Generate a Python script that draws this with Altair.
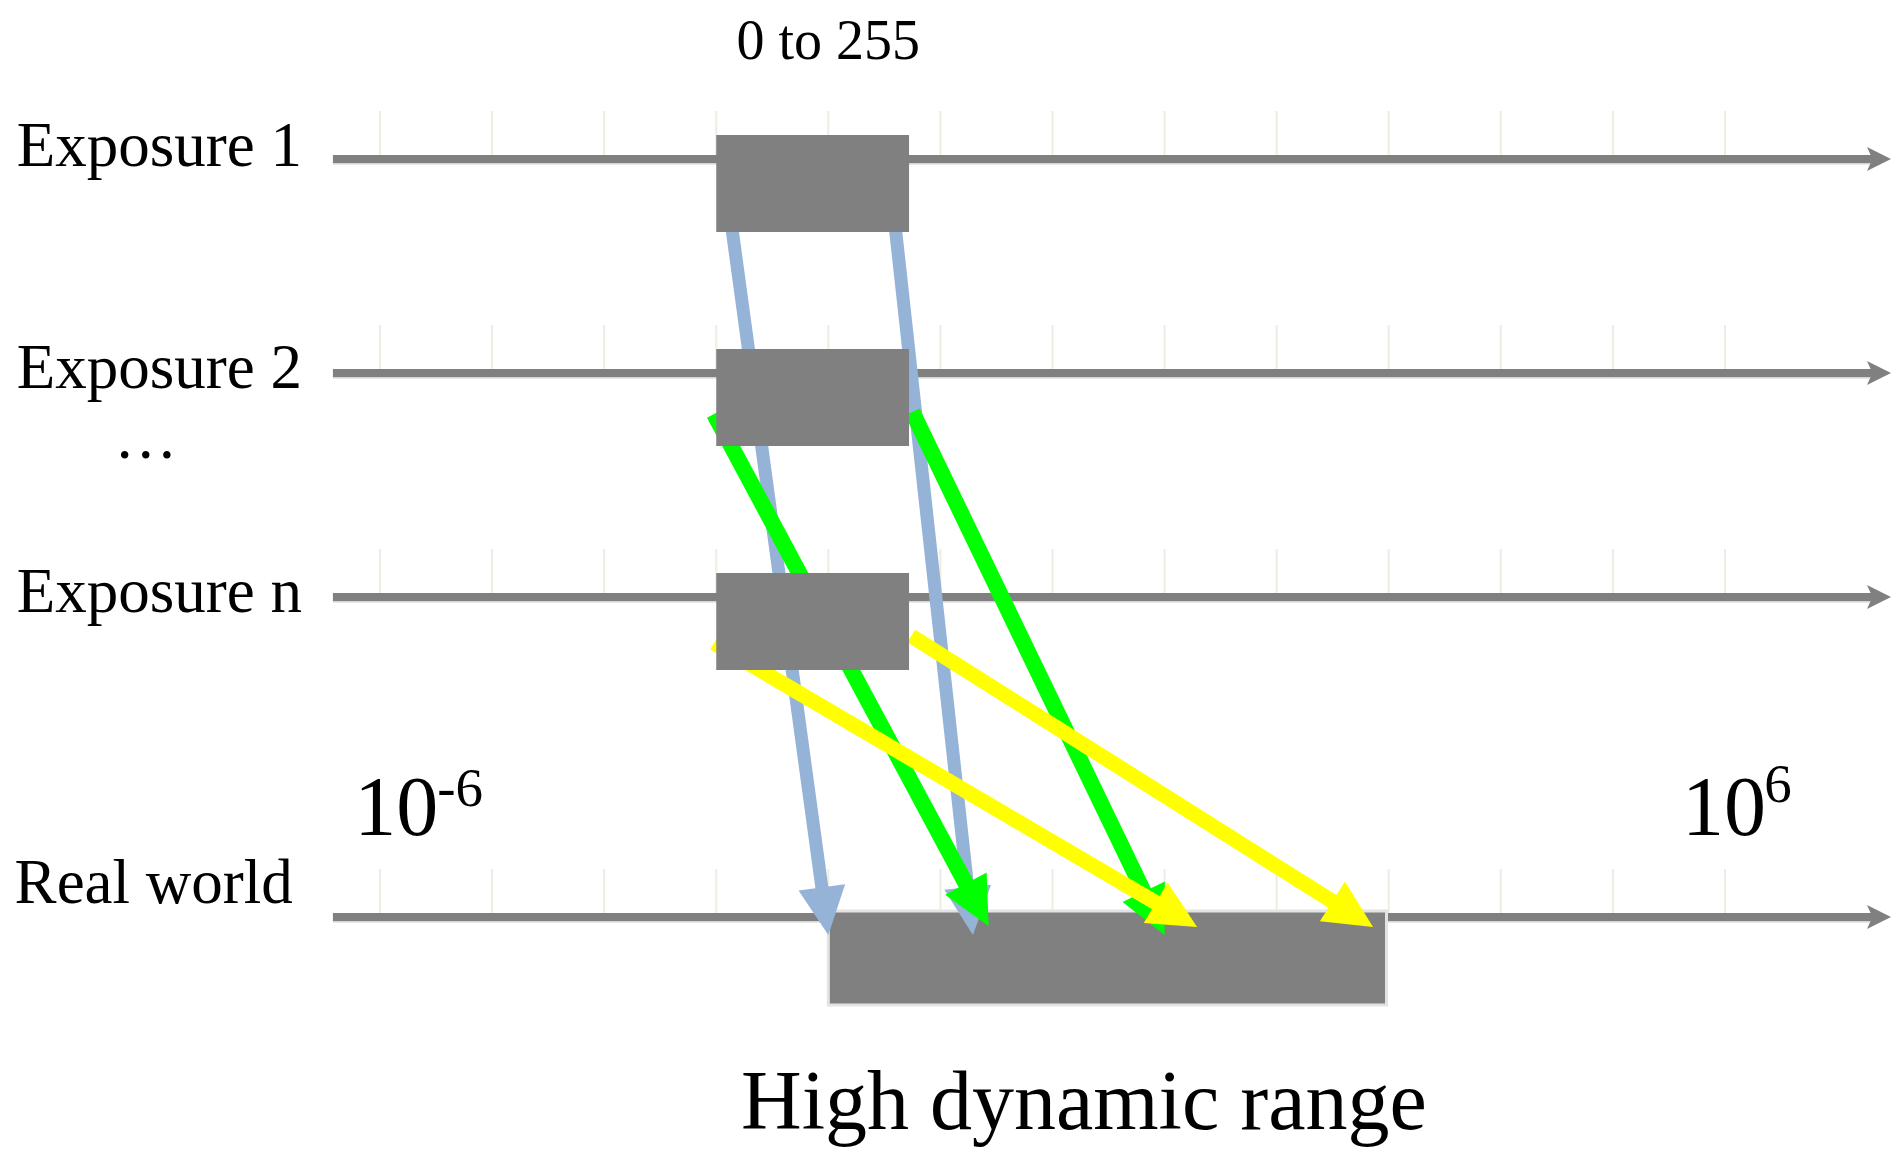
import math
import altair as alt
import pandas as pd

# x unit: log10 luminance (ticks 10^-6 ... 10^6); y unit: diagram rows (0 = top)
tick_values = list(range(-6, 7))
axis_rows = ["Exposure 1", "Exposure 2", "Exposure n", "Real world"]
axis_y = [159, 373, 597, 917]

label_text = ["Exposure 1", "Exposure 2", "…", "Exposure n", "Real world"]
label_x = [-9.24, -9.24, -8.37, -9.24, -9.26]
label_y = [166, 388, 458, 612, 903]

axis_start = -6.42
axis_end = 7.34
axis_head = 7.374

# exposure windows (0 to 255) and real-world range
exp_rows = [159, 373, 597]
exp_lo = -3.0
exp_hi = -1.28
real_lo, real_hi = -2.0, 2.98
real_top, real_bottom = 911, 1005

# mapping arrows
arrow_group = ["blue", "blue", "green", "green", "yellow", "yellow"]
arrow_x1 = [-2.87, -1.41, -3.02, -1.25, -3.02, -1.26]
arrow_y1 = [220, 220, 414, 412, 643, 636]
arrow_x2 = [-2.00, -0.71, -0.57, 1.00, 1.29, 2.86]
arrow_y2 = [935, 935, 926, 935, 927, 927]
group_color = {"blue": "#95b3d7", "green": "#00ff00", "yellow": "#ffff00"}
group_width = {"blue": 13, "green": 16, "yellow": 15}

PX_PER_UNIT = 1884 / (7.490 + 9.319)
XS = alt.Scale(domain=[-9.319, 7.490], nice=False, zero=False)
YS = alt.Scale(domain=[8, 1147], nice=False, zero=False, reverse=True)


def X(f):
    return alt.X(f, type="quantitative", scale=XS, axis=None)


def Y(f):
    return alt.Y(f, type="quantitative", scale=YS, axis=None)


# ticks
tick_df = pd.DataFrame([{"x": t, "y": r - 48, "y2": r - 4} for r in axis_y for t in tick_values])
ticks = alt.Chart(tick_df).mark_rule(color="#efece1", strokeWidth=2).encode(
    x=X("x"), y=Y("y"), y2=alt.Y2("y2"))

axis_df = pd.DataFrame({"x": [axis_start] * 4, "x2": [axis_end] * 4, "y": axis_y,
                        "yl": [v + 4.8 for v in axis_y], "xh": [axis_head] * 4})
under = alt.Chart(axis_df).mark_rule(color="#d4d4d4", strokeWidth=1.5).encode(
    x=X("x"), x2=alt.X2("x2"), y=Y("yl"))
axes = alt.Chart(axis_df).mark_rule(color="#808080", strokeWidth=8).encode(
    x=X("x"), x2=alt.X2("x2"), y=Y("y"))
axis_heads = alt.Chart(axis_df).mark_point(
    shape="M1,0 L-1,-1 L-0.55,0 L-1,1 Z", size=576, filled=True, color="#808080",
    opacity=1, strokeWidth=0).encode(x=X("xh"), y=Y("y"))

real_df = pd.DataFrame({"x": [real_lo], "x2": [real_hi], "y": [real_top], "y2": [real_bottom]})
real_box = alt.Chart(real_df).mark_rect(fill="#808080", stroke="#e3e3e3", strokeWidth=3).encode(
    x=X("x"), x2=alt.X2("x2"), y=Y("y"), y2=alt.Y2("y2"))

# arrows
rows = []
for g, x1, y1, x2, y2 in zip(arrow_group, arrow_x1, arrow_y1, arrow_x2, arrow_y2):
    dx = (x2 - x1) * PX_PER_UNIT
    dy = (y2 - y1)
    n = math.hypot(dx, dy)
    ux, uy = dx / n, dy / n
    cx = x2 - 24 * ux / PX_PER_UNIT
    cy = y2 - 24 * uy
    ang = math.degrees(math.atan2(dy, dx)) % 360
    rows.append({"g": g, "x1": x1, "y1": y1, "xe": cx, "ye": cy, "ang": ang})
arrow_df = pd.DataFrame(rows)

arrow_layers = []
for g in ["blue", "green", "yellow"]:
    d = arrow_df[arrow_df["g"] == g]
    shaft = alt.Chart(d).mark_rule(color=group_color[g], strokeWidth=group_width[g]).encode(
        x=X("x1"), y=Y("y1"), x2=alt.X2("xe"), y2=alt.Y2("ye"))
    head = alt.Chart(d).mark_point(
        shape="M1,0 L-1,-0.98 L-1,0.98 Z", size=2304, filled=True, color=group_color[g],
        opacity=1, strokeWidth=0).encode(
        x=X("xe"), y=Y("ye"), angle=alt.Angle("ang", type="quantitative", scale=None))
    arrow_layers += [shaft, head]

exp_df = pd.DataFrame({"x": [exp_lo] * 3, "x2": [exp_hi] * 3,
                       "y": [r - 24 for r in exp_rows], "y2": [r + 73 for r in exp_rows]})
exp_boxes = alt.Chart(exp_df).mark_rect(fill="#808080").encode(
    x=X("x"), x2=alt.X2("x2"), y=Y("y"), y2=alt.Y2("y2"))

FONT = "Liberation Serif"
lab_df = pd.DataFrame({"t": label_text, "x": label_x, "y": label_y})
labels = alt.Chart(lab_df).mark_text(font=FONT, fontSize=63, align="left",
                                     baseline="alphabetic", color="black").encode(
    x=X("x"), y=Y("y"), text="t:N")

top_df = pd.DataFrame({"t": ["0 to 255"], "x": [-2.0], "y": [59]})
top_label = alt.Chart(top_df).mark_text(font=FONT, fontSize=56, align="center",
                                        baseline="alphabetic", color="black").encode(
    x=X("x"), y=Y("y"), text="t:N")

bot_df = pd.DataFrame({"t": ["High dynamic range"], "x": [0.28], "y": [1129]})
bot_label = alt.Chart(bot_df).mark_text(font=FONT, fontSize=84, align="center",
                                        baseline="alphabetic", color="black").encode(
    x=X("x"), y=Y("y"), text="t:N")

base_df = pd.DataFrame({"t": ["10", "10"], "x": [-6.23, 5.617], "y": [835, 835]})
base_label = alt.Chart(base_df).mark_text(font=FONT, fontSize=84, align="left",
                                          baseline="alphabetic", color="black").encode(
    x=X("x"), y=Y("y"), text="t:N")
exp_txt_df = pd.DataFrame({"t": ["-6", "6"], "x": [-5.49, 6.35], "y": [806, 802]})
exp_label = alt.Chart(exp_txt_df).mark_text(font=FONT, fontSize=55, align="left",
                                            baseline="alphabetic", color="black").encode(
    x=X("x"), y=Y("y"), text="t:N")

chart = alt.layer(
    ticks, under, axes, axis_heads, real_box, *arrow_layers, exp_boxes,
    labels, top_label, bot_label, base_label, exp_label
).properties(width=1884, height=1139, autosize="none", padding=0
).configure_view(strokeWidth=0)

chart.save("out.html", embed_options={"renderer": "svg", "actions": False})
